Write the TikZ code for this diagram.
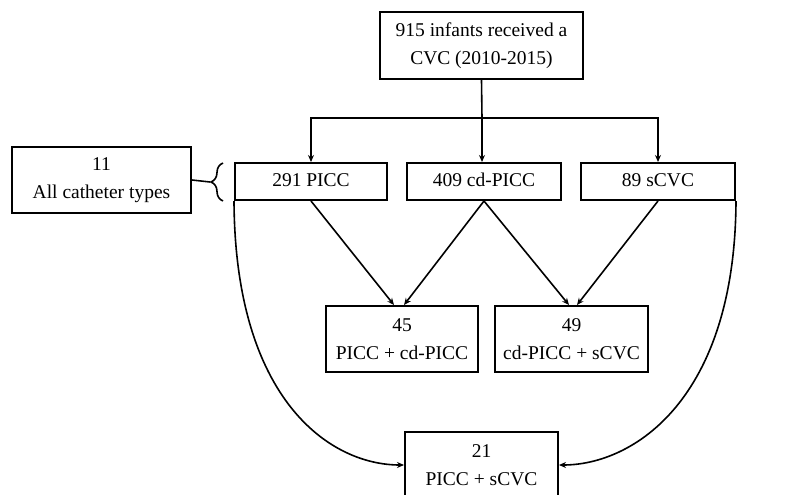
\documentclass[tikz,border=0pt]{standalone}
\usepackage{fontspec}
\setmainfont{Liberation Serif}
\usetikzlibrary{arrows.meta,calc,decorations.pathreplacing}
\begin{document}
\begin{tikzpicture}[x=1pt,y=-1pt,
  box/.style={draw,line width=2pt,align=center,inner sep=0pt,
    font=\fontsize{19.5}{28}\selectfont},
  onebox/.style={box,text height=13pt,text depth=4pt,minimum height=37pt},
  conn/.style={line width=1.6pt,-{Stealth[length=7pt,width=6pt]}},
  plain/.style={line width=1.6pt}]
\useasboundingbox (0,0) rectangle (793,495);
\node[box,minimum width=203pt,minimum height=67pt] (top) at (481.5,45.5) {915 infants received a\\CVC (2010-2015)};
\node[onebox,minimum width=152pt] (picc) at (311,181.5) {291 PICC};
\node[onebox,minimum width=154pt] (cdpicc) at (484,181.5) {409 cd-PICC};
\node[onebox,minimum width=154pt] (scvc) at (658,181.5) {89 sCVC};
\node[box,minimum width=179pt,minimum height=66pt] (all) at (101.5,180) {11\\All catheter types};
\node[box,minimum width=152pt,minimum height=66pt] (b45) at (402,339) {45\\PICC + cd-PICC};
\node[box,minimum width=153pt,minimum height=66pt] (b49) at (571.5,339) {49\\cd-PICC + sCVC};
\node[box,minimum width=153pt,minimum height=66pt] (b21) at (481.5,465) {21\\PICC + sCVC};
\coordinate (j) at (482,118);
\coordinate (bt) at (210,182);
\draw[plain] (top.south) -- (j);
\draw[conn] (j) -| (picc.north);
\draw[conn] (j) -| (scvc.north);
\draw[conn] (j) -- (j |- cdpicc.north);
\draw[conn] (picc.south) -- ($(b45.north)+(-8,0)$);
\draw[conn] (cdpicc.south) -- ($(b45.north)+(2,0)$);
\draw[conn] (cdpicc.south) -- ($(b49.north)+(-2.5,0)$);
\draw[conn] (scvc.south) -- ($(b49.north)+(5.5,0)$);
\draw[conn] (picc.south west) .. controls (235,400) and (330,465) .. (b21.west);
\draw[conn] (scvc.south east) .. controls (735,400) and (633,465) .. (b21.east);
\draw[plain] (all.east) -- (bt);
\draw[plain,decorate,decoration={brace,amplitude=12pt}] (223,201) -- (223,163);
\end{tikzpicture}
\end{document}
